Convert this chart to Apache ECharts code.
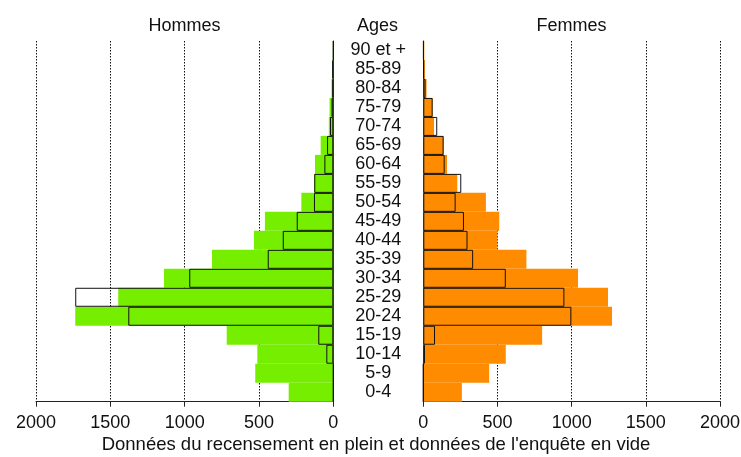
<!DOCTYPE html>
<html>
<head>
<meta charset="utf-8">
<script src="https://cdn.jsdelivr.net/npm/echarts@6/dist/echarts.min.js"></script>
<style>
html,body{margin:0;padding:0;background:#fff;}
#chart{width:741px;height:457px;}
</style>
</head>
<body>
<div id="chart"></div>
<script>
var categories = ['0-4','5-9','10-14','15-19','20-24','25-29','30-34','35-39','40-44','45-49','50-54','55-59','60-64','65-69','70-74','75-79','80-84','85-89','90 et +'];
var hommesRecensement = [300, 525, 511, 717, 1736, 1447, 1139, 816, 534, 460, 215, 130, 123, 85, 30, 25, 12, 6, 3];
var hommesEnquete = [0, 0, 47, 101, 1379, 1736, 969, 441, 340, 246, 130, 128, 60, 42, 22, 12, 6, 7, 0];
var femmesRecensement = [260, 444, 556, 801, 1272, 1245, 1043, 695, 500, 512, 422, 229, 160, 137, 72, 63, 22, 11, 7];
var femmesEnquete = [0, 0, 11, 79, 998, 951, 556, 336, 298, 274, 218, 256, 144, 137, 94, 63, 15, 4, 2];
var tickValues = [0, 500, 1000, 1500, 2000];

var FONT = "'Liberation Sans', Arial, sans-serif";
var chart = echarts.init(document.getElementById('chart'));

function xAxisCfg(gridIndex, inverse) {
  return {
    type: 'value', gridIndex: gridIndex, inverse: inverse,
    min: tickValues[0], max: tickValues[tickValues.length - 1], interval: 500,
    axisLine: {show: true, lineStyle: {color: '#222', width: 1}},
    axisTick: {show: true, length: 5, lineStyle: {color: '#222'}},
    axisLabel: {color: '#111', fontSize: 18, fontFamily: FONT, margin: 12,
                formatter: function (v) { return String(v); }},
    splitLine: {show: true, lineStyle: {color: '#111', type: [1.5, 1.5], width: 1}}
  };
}

var titleStyle = {fontSize: 18, fontWeight: 'normal', color: '#111', fontFamily: FONT};
var option = {
  backgroundColor: '#fff',
  animation: false,
  title: [
    {text: 'Hommes', left: 179.5, top: 12, textAlign: 'center', textStyle: titleStyle},
    {text: 'Ages', left: 372.5, top: 12, textAlign: 'center', textStyle: titleStyle},
    {text: 'Femmes', left: 566.5, top: 12, textAlign: 'center', textStyle: titleStyle},
    {text: "Données du recensement en plein et données de l'enquête en vide", left: 371, top: 430, textAlign: 'center',
     textStyle: {fontSize: 18.5, fontWeight: 'normal', color: '#111', fontFamily: FONT}}
  ],
  grid: [
    {left: 36, right: 407.7, top: 41, bottom: 55.3, outerBoundsMode: 'none', containLabel: false},
    {left: 423.3, right: 21, top: 41, bottom: 55.3, outerBoundsMode: 'none', containLabel: false}
  ],
  xAxis: [xAxisCfg(0, true), xAxisCfg(1, false)],
  yAxis: [
    {type: 'category', gridIndex: 0, data: categories, position: 'right',
     axisLine: {show: true, lineStyle: {color: '#222'}}, axisTick: {show: false}, axisLabel: {show: false}, splitLine: {show: false}},
    {type: 'category', gridIndex: 1, data: categories, position: 'left',
     axisLine: {show: true, lineStyle: {color: '#222'}}, axisTick: {show: false},
     axisLabel: {show: true, interval: 0, align: 'center', margin: 45, fontSize: 18, color: '#111', fontFamily: FONT},
     splitLine: {show: false}}
  ],
  series: [
    {name: 'Hommes recensement', type: 'bar', xAxisIndex: 0, yAxisIndex: 0, data: hommesRecensement,
     barCategoryGap: 0, barGap: '-100%', itemStyle: {color: '#76EE00'}},
    {name: 'Hommes enquête', type: 'bar', xAxisIndex: 0, yAxisIndex: 0, data: hommesEnquete,
     barCategoryGap: 0, barGap: '-100%', itemStyle: {color: 'rgba(0,0,0,0)', borderColor: '#111', borderWidth: 1}},
    {name: 'Femmes recensement', type: 'bar', xAxisIndex: 1, yAxisIndex: 1, data: femmesRecensement,
     barCategoryGap: 0, barGap: '-100%', itemStyle: {color: '#FF8C00'}},
    {name: 'Femmes enquête', type: 'bar', xAxisIndex: 1, yAxisIndex: 1, data: femmesEnquete,
     barCategoryGap: 0, barGap: '-100%', itemStyle: {color: 'rgba(0,0,0,0)', borderColor: '#111', borderWidth: 1}}
  ]
};
chart.setOption(option);
</script>
</body>
</html>
